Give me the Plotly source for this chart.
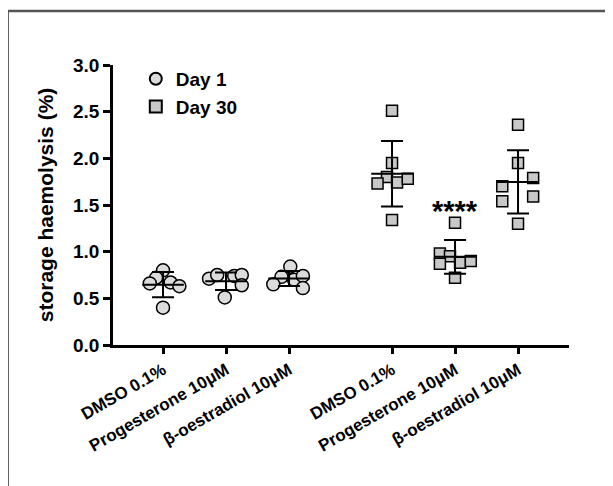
import numpy as np
import plotly.graph_objects as go

# ---- data ----
categories = ["DMSO 0.1%", "Progesterone 10μM", "β-oestradiol 10μM"]
tick_labels = categories + categories

day1_dmso = [0.80, 0.72, 0.66, 0.67, 0.63, 0.40]
day1_prog = [0.71, 0.75, 0.74, 0.75, 0.64, 0.51]
day1_oest = [0.84, 0.73, 0.65, 0.70, 0.74, 0.61]

day30_dmso = [2.51, 1.95, 1.80, 1.73, 1.74, 1.78, 1.34]
day30_prog = [1.31, 0.98, 0.95, 0.87, 0.88, 0.90, 0.72]
day30_oest = [2.36, 1.95, 1.79, 1.70, 1.54, 1.59, 1.30]

y_ticks = [0.0, 0.5, 1.0, 1.5, 2.0, 2.5, 3.0]
significance = "****"

# ---- layout constants (positions / jitter) ----
centers = [0, 1, 2, 3.635, 4.635, 5.635]
jitter = [
    [0.0, -0.11, -0.21, 0.12, 0.26, 0.0],
    [-0.27, -0.14, 0.13, 0.25, 0.25, -0.02],
    [0.02, -0.12, -0.25, 0.08, 0.22, 0.22],
    [0.0, 0.0, -0.08, -0.23, 0.08, 0.25, 0.0],
    [0.0, -0.24, -0.08, -0.24, 0.08, 0.25, 0.0],
    [0.0, 0.0, 0.24, -0.25, -0.25, 0.24, 0.0],
]
groups = [day1_dmso, day1_prog, day1_oest, day30_dmso, day30_prog, day30_oest]

FONT = "Arial, Liberation Sans, sans-serif"
fig = go.Figure()

# points
for idxs, name, sym, fill, size in [
    ([0, 1, 2], "<b>Day 1</b>", "circle", "#dcdcdc", 13),
    ([3, 4, 5], "<b>Day 30</b>", "square", "#c8c8c8", 11),
]:
    xs, ys = [], []
    for i in idxs:
        xs += [centers[i] + d for d in jitter[i]]
        ys += groups[i]
    fig.add_trace(go.Scatter(
        x=xs, y=ys, mode="markers", name=name,
        marker=dict(symbol=sym, size=size, color=fill,
                    line=dict(color="black", width=1.5)),
        cliponaxis=False,
    ))

# mean + SD
means = [float(np.mean(g)) for g in groups]
sds = [float(np.std(g, ddof=1)) for g in groups]
mx, my = [], []
for c, m in zip(centers, means):
    mx += [c - 0.33, c + 0.33, None]
    my += [m, m, None]
fig.add_trace(go.Scatter(x=mx, y=my, mode="lines", showlegend=False,
                         line=dict(color="black", width=2)))
fig.add_trace(go.Scatter(
    x=centers, y=means, mode="markers", showlegend=False,
    marker=dict(size=0.1, color="black"),
    error_y=dict(type="data", array=sds, visible=True, color="black",
                 thickness=2, width=11),
))

# significance
fig.add_annotation(x=centers[4], y=max(day30_prog), yshift=12,
                   text="<b>" + significance + "</b>", showarrow=False,
                   font=dict(family=FONT, size=29, color="black"))

# frame lines (top and left border of the panel)
fig.add_shape(type="line", xref="paper", yref="paper",
              x0=-0.231, x1=1.1, y0=1.193, y1=1.193,
              line=dict(color="#555555", width=2.5))
fig.add_shape(type="line", xref="paper", yref="paper",
              x0=-0.231, x1=-0.231, y0=1.193, y1=-0.51,
              line=dict(color="#555555", width=2.5))

# the page body has an 8px margin, so the figure is 8px smaller
fig.update_layout(
    width=605, height=478,
    margin=dict(l=105, r=44, t=57, b=141),
    paper_bgcolor="white", plot_bgcolor="white",
    font=dict(family=FONT, color="black"),
    legend=dict(x=0.05, y=1.018, xanchor="left", yanchor="top",
                font=dict(family=FONT, size=19, color="black"),
                bgcolor="rgba(0,0,0,0)", itemsizing="constant",
                tracegroupgap=0),
    xaxis=dict(range=[-0.794, 6.444], tickmode="array", tickvals=centers,
               ticktext=["<b>%s</b>" % t for t in tick_labels],
               tickangle=-30, showline=True, linecolor="black", linewidth=2.5,
               ticks="outside", ticklen=6, tickwidth=2.5, tickcolor="black",
               showgrid=False, zeroline=False,
               tickfont=dict(family=FONT, size=17, color="black")),
    yaxis=dict(range=[0, 3.0], tickvals=y_ticks,
               ticktext=["<b>%.1f</b>" % v for v in y_ticks],
               showline=True, linecolor="black", linewidth=2.5,
               ticks="outside", ticklen=7, tickwidth=2.5, tickcolor="black",
               showgrid=False, zeroline=False,
               tickfont=dict(family=FONT, size=19, color="black"),
               title=dict(text="<b>storage haemolysis (%)</b>", standoff=14,
                          font=dict(family=FONT, size=21, color="black"))),
)

fig.write_html("out.html")
